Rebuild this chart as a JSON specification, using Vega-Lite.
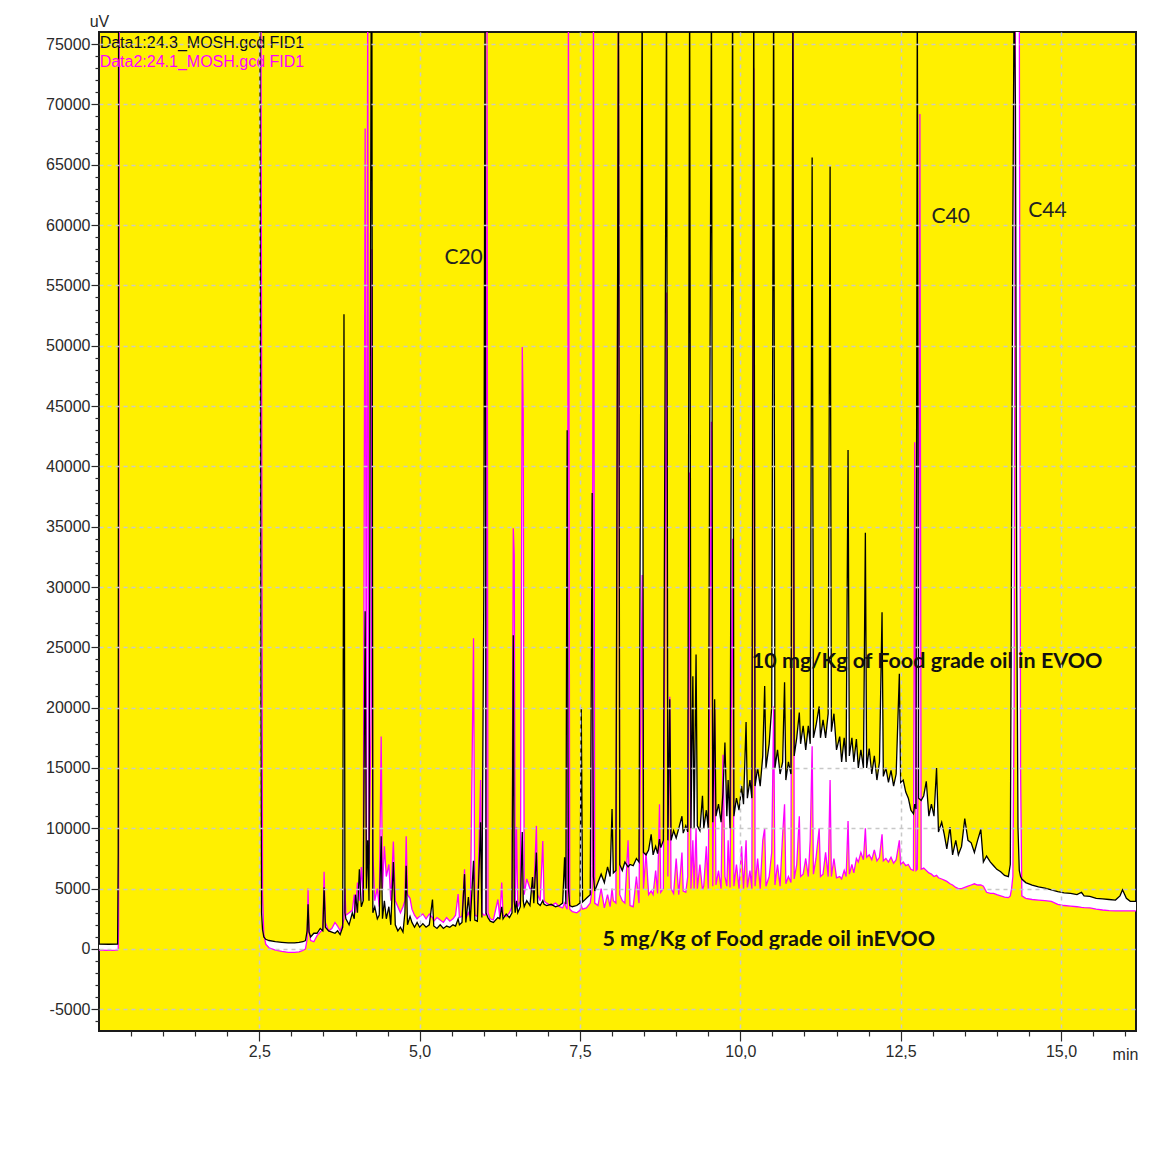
{
"$schema": "https://vega.github.io/schema/vega-lite/v6.json",
"width": 1037, "height": 999,
"autosize": {"type": "none"},
"padding": {"left": 99, "top": 32, "right": 35, "bottom": 136},
"background": "white",
"config": {
  "view": {"fill": "#fff000", "stroke": "#1a1a1a", "strokeWidth": 2},
  "axis": {"domain": false, "labelFont": "Liberation Sans", "labelFontSize": 16, "labelColor": "#2a2a2a", "tickColor": "#2a2a2a", "titleFont": "Liberation Sans", "titleFontSize": 16, "titleFontWeight": "normal", "titleColor": "#2a2a2a"}
},
"datasets": {
"trace": [
{"t":0,"b":400,"m":-100},{"t":0.15,"b":390,"m":-110},{"t":0.29,"b":400,"m":-100},{"t":0.3,"b":8000,"m":0},{"t":0.305,"b":80000,"m":2000},{"t":0.315,"b":80000,"m":80000},{"t":2.51,"b":80000,"m":80000},{"t":2.525,"b":20000,"m":80000},{"t":2.535,"b":3000,"m":50000},{"t":2.55,"b":1600,"m":4500},{"t":2.57,"b":1000,"m":1200},{"t":2.6,"b":800,"m":400},{"t":2.65,"b":700,"m":100},{"t":2.75,"b":600,"m":-100},{"t":2.85,"b":550,"m":-200},{"t":2.95,"b":500,"m":-280},{"t":3.05,"b":500,"m":-280},{"t":3.12,"b":550,"m":-250},{"t":3.18,"b":600,"m":-120},{"t":3.22,"b":700,"m":0},{"t":3.245,"b":1500,"m":800},{"t":3.26,"b":3700,"m":5000},{"t":3.275,"b":1400,"m":1500},{"t":3.3,"b":1000,"m":700},{"t":3.35,"b":1300,"m":600},{"t":3.4,"b":1300,"m":1100},{"t":3.45,"b":1700,"m":1400},{"t":3.49,"b":1500,"m":1600},{"t":3.51,"b":5100,"m":6400},{"t":3.53,"b":1800,"m":2200},{"t":3.58,"b":1500,"m":1500},{"t":3.63,"b":1400,"m":1700},{"t":3.68,"b":1300,"m":2200},{"t":3.72,"b":1500,"m":1900},{"t":3.76,"b":1200,"m":1500},{"t":3.8,"b":1800,"m":2000},{"t":3.82,"b":52600,"m":2500},{"t":3.835,"b":3000,"m":5000},{"t":3.85,"b":2500,"m":2800},{"t":3.9,"b":2000,"m":3000},{"t":3.95,"b":3000,"m":3200},{"t":3.98,"b":2500,"m":4500},{"t":4.0,"b":4500,"m":3000},{"t":4.03,"b":3000,"m":5500},{"t":4.06,"b":6600,"m":4000},{"t":4.09,"b":3500,"m":6800},{"t":4.12,"b":4000,"m":4000},{"t":4.15,"b":28000,"m":68000},{"t":4.17,"b":5000,"m":6000},{"t":4.19,"b":9000,"m":80000},{"t":4.21,"b":4000,"m":7000},{"t":4.245,"b":80000,"m":20000},{"t":4.255,"b":80000,"m":58000},{"t":4.27,"b":3000,"m":8000},{"t":4.3,"b":3500,"m":4000},{"t":4.34,"b":2500,"m":5000},{"t":4.37,"b":2800,"m":3500},{"t":4.4,"b":9350,"m":17600},{"t":4.42,"b":2500,"m":5000},{"t":4.45,"b":4000,"m":8500},{"t":4.48,"b":2500,"m":6000},{"t":4.52,"b":3500,"m":7000},{"t":4.55,"b":2000,"m":4000},{"t":4.59,"b":7200,"m":8900},{"t":4.62,"b":2000,"m":4000},{"t":4.66,"b":1500,"m":3500},{"t":4.7,"b":1800,"m":3000},{"t":4.74,"b":1400,"m":3500},{"t":4.77,"b":3000,"m":4000},{"t":4.79,"b":6900,"m":9350},{"t":4.81,"b":2000,"m":4500},{"t":4.85,"b":2700,"m":4200},{"t":4.88,"b":2200,"m":3300},{"t":4.92,"b":1800,"m":2800},{"t":4.96,"b":2200,"m":2500},{"t":5.0,"b":1800,"m":2700},{"t":5.05,"b":2100,"m":2900},{"t":5.1,"b":1800,"m":2500},{"t":5.15,"b":2000,"m":2900},{"t":5.2,"b":4100,"m":2600},{"t":5.22,"b":1900,"m":2300},{"t":5.27,"b":1700,"m":2600},{"t":5.32,"b":2000,"m":2400},{"t":5.37,"b":1700,"m":2200},{"t":5.42,"b":1900,"m":2600},{"t":5.47,"b":1800,"m":2300},{"t":5.52,"b":2000,"m":2500},{"t":5.56,"b":1900,"m":2800},{"t":5.6,"b":2500,"m":4550},{"t":5.62,"b":2000,"m":2600},{"t":5.66,"b":2200,"m":2700},{"t":5.7,"b":6200,"m":6600},{"t":5.72,"b":2200,"m":2500},{"t":5.76,"b":4300,"m":3000},{"t":5.79,"b":2300,"m":2600},{"t":5.84,"b":7300,"m":25750},{"t":5.86,"b":2400,"m":2800},{"t":5.9,"b":2300,"m":2700},{"t":5.95,"b":10500,"m":14000},{"t":5.97,"b":2600,"m":3000},{"t":6.0,"b":29300,"m":2800},{"t":6.02,"b":80000,"m":2800},{"t":6.035,"b":3000,"m":3000},{"t":6.05,"b":2800,"m":80000},{"t":6.065,"b":2600,"m":3000},{"t":6.1,"b":2300,"m":2500},{"t":6.15,"b":2200,"m":2400},{"t":6.22,"b":2600,"m":4100},{"t":6.25,"b":2500,"m":2600},{"t":6.28,"b":3500,"m":5500},{"t":6.3,"b":2500,"m":2800},{"t":6.35,"b":2900,"m":2700},{"t":6.4,"b":2600,"m":3000},{"t":6.44,"b":3000,"m":3500},{"t":6.46,"b":26000,"m":34860},{"t":6.475,"b":4000,"m":32650},{"t":6.49,"b":3000,"m":3500},{"t":6.51,"b":4000,"m":10100},{"t":6.53,"b":3000,"m":3500},{"t":6.57,"b":3500,"m":4000},{"t":6.6,"b":9700,"m":49900},{"t":6.615,"b":4000,"m":44600},{"t":6.63,"b":3500,"m":4500},{"t":6.67,"b":4000,"m":5800},{"t":6.72,"b":3600,"m":5000},{"t":6.76,"b":5960,"m":5000},{"t":6.78,"b":3800,"m":4500},{"t":6.82,"b":8000,"m":10200},{"t":6.84,"b":3800,"m":4500},{"t":6.88,"b":3600,"m":4000},{"t":6.92,"b":4000,"m":8950},{"t":6.94,"b":3700,"m":4000},{"t":6.98,"b":3600,"m":3800},{"t":7.05,"b":3700,"m":3600},{"t":7.12,"b":3500,"m":3800},{"t":7.18,"b":3600,"m":3500},{"t":7.23,"b":3800,"m":3400},{"t":7.26,"b":7600,"m":3800},{"t":7.28,"b":3700,"m":3500},{"t":7.3,"b":43000,"m":3300},{"t":7.32,"b":5000,"m":80000},{"t":7.34,"b":3600,"m":3300},{"t":7.38,"b":3500,"m":3100},{"t":7.45,"b":3600,"m":3000},{"t":7.5,"b":3800,"m":3200},{"t":7.52,"b":20000,"m":3600},{"t":7.54,"b":3900,"m":3300},{"t":7.6,"b":4200,"m":3400},{"t":7.66,"b":4500,"m":3800},{"t":7.69,"b":37800,"m":5000},{"t":7.71,"b":6000,"m":80000},{"t":7.73,"b":4800,"m":3800},{"t":7.78,"b":5500,"m":3600},{"t":7.83,"b":6200,"m":5000},{"t":7.88,"b":5500,"m":3400},{"t":7.93,"b":6800,"m":4500},{"t":7.97,"b":6000,"m":3500},{"t":8.0,"b":11600,"m":5000},{"t":8.02,"b":6300,"m":4000},{"t":8.06,"b":6500,"m":3800},{"t":8.1,"b":80000,"m":80000},{"t":8.12,"b":7000,"m":4500},{"t":8.16,"b":6500,"m":4000},{"t":8.2,"b":7200,"m":3800},{"t":8.25,"b":6800,"m":9000},{"t":8.28,"b":7000,"m":3600},{"t":8.33,"b":6900,"m":3500},{"t":8.38,"b":7500,"m":6000},{"t":8.42,"b":7200,"m":3800},{"t":8.47,"b":80000,"m":31000},{"t":8.49,"b":8000,"m":5000},{"t":8.53,"b":7800,"m":8000},{"t":8.57,"b":8200,"m":4500},{"t":8.61,"b":9500,"m":4800},{"t":8.64,"b":7800,"m":4500},{"t":8.68,"b":8500,"m":6500},{"t":8.71,"b":7900,"m":4600},{"t":8.74,"b":9100,"m":12000},{"t":8.76,"b":8400,"m":4700},{"t":8.8,"b":9000,"m":5000},{"t":8.85,"b":80000,"m":54400},{"t":8.87,"b":9000,"m":6000},{"t":8.9,"b":20700,"m":20900},{"t":8.92,"b":9000,"m":5000},{"t":8.96,"b":9800,"m":4600},{"t":9.0,"b":9200,"m":7500},{"t":9.04,"b":10000,"m":4500},{"t":9.09,"b":11000,"m":8000},{"t":9.11,"b":9600,"m":4800},{"t":9.15,"b":10200,"m":4700},{"t":9.18,"b":9700,"m":6000},{"t":9.21,"b":80000,"m":39500},{"t":9.23,"b":10000,"m":5000},{"t":9.26,"b":22600,"m":9000},{"t":9.28,"b":10000,"m":5000},{"t":9.31,"b":24400,"m":10000},{"t":9.33,"b":10200,"m":5000},{"t":9.37,"b":9800,"m":7000},{"t":9.41,"b":12700,"m":4900},{"t":9.43,"b":10000,"m":5200},{"t":9.47,"b":11500,"m":8500},{"t":9.5,"b":10000,"m":5000},{"t":9.55,"b":80000,"m":43700},{"t":9.57,"b":10500,"m":5200},{"t":9.6,"b":20700,"m":20000},{"t":9.62,"b":11000,"m":5300},{"t":9.66,"b":12000,"m":6500},{"t":9.7,"b":10500,"m":5000},{"t":9.73,"b":13000,"m":16100},{"t":9.76,"b":17100,"m":6000},{"t":9.79,"b":11000,"m":5200},{"t":9.81,"b":14000,"m":9000},{"t":9.84,"b":10000,"m":5100},{"t":9.88,"b":80000,"m":34000},{"t":9.9,"b":11000,"m":5200},{"t":9.94,"b":12500,"m":7000},{"t":9.98,"b":11500,"m":5000},{"t":10.02,"b":13500,"m":8500},{"t":10.05,"b":12000,"m":5000},{"t":10.09,"b":18800,"m":9000},{"t":10.11,"b":12500,"m":5100},{"t":10.15,"b":14000,"m":6500},{"t":10.18,"b":12500,"m":5000},{"t":10.21,"b":80000,"m":73000},{"t":10.23,"b":13500,"m":5200},{"t":10.27,"b":15000,"m":7500},{"t":10.31,"b":13500,"m":5000},{"t":10.35,"b":16000,"m":9000},{"t":10.38,"b":21800,"m":10000},{"t":10.4,"b":15000,"m":5200},{"t":10.45,"b":17000,"m":6000},{"t":10.49,"b":20100,"m":8000},{"t":10.52,"b":80000,"m":20100},{"t":10.54,"b":15000,"m":5300},{"t":10.58,"b":16500,"m":7000},{"t":10.62,"b":14500,"m":5200},{"t":10.66,"b":15500,"m":9500},{"t":10.69,"b":22100,"m":12000},{"t":10.71,"b":14000,"m":5400},{"t":10.75,"b":15500,"m":6000},{"t":10.79,"b":14500,"m":5500},{"t":10.82,"b":80000,"m":80000},{"t":10.84,"b":16000,"m":5800},{"t":10.88,"b":17500,"m":7000},{"t":10.92,"b":19600,"m":11000},{"t":10.94,"b":17000,"m":6000},{"t":10.98,"b":18500,"m":6200},{"t":11.02,"b":16500,"m":7500},{"t":11.06,"b":18500,"m":6000},{"t":11.09,"b":17000,"m":9000},{"t":11.12,"b":65600,"m":16800},{"t":11.14,"b":17500,"m":6200},{"t":11.18,"b":18500,"m":7500},{"t":11.23,"b":20100,"m":10000},{"t":11.25,"b":17500,"m":6000},{"t":11.29,"b":19000,"m":6200},{"t":11.33,"b":17500,"m":8000},{"t":11.37,"b":19500,"m":6000},{"t":11.4,"b":64860,"m":14000},{"t":11.42,"b":18000,"m":6000},{"t":11.46,"b":19500,"m":7500},{"t":11.5,"b":16500,"m":5900},{"t":11.55,"b":17600,"m":6000},{"t":11.58,"b":15500,"m":5800},{"t":11.62,"b":17500,"m":6500},{"t":11.65,"b":15500,"m":6000},{"t":11.68,"b":41350,"m":10600},{"t":11.7,"b":16000,"m":6200},{"t":11.74,"b":17500,"m":7000},{"t":11.77,"b":15500,"m":6300},{"t":11.81,"b":17400,"m":7500},{"t":11.84,"b":15000,"m":7200},{"t":11.88,"b":16500,"m":8000},{"t":11.92,"b":15000,"m":7400},{"t":11.95,"b":34500,"m":10000},{"t":11.97,"b":15000,"m":7600},{"t":12.01,"b":16600,"m":7800},{"t":12.05,"b":14500,"m":7400},{"t":12.09,"b":16000,"m":8200},{"t":12.13,"b":14000,"m":7300},{"t":12.17,"b":15500,"m":7600},{"t":12.21,"b":27900,"m":9500},{"t":12.23,"b":14300,"m":7300},{"t":12.27,"b":15000,"m":7500},{"t":12.31,"b":13800,"m":7200},{"t":12.35,"b":14800,"m":7600},{"t":12.39,"b":13500,"m":7100},{"t":12.43,"b":14500,"m":7400},{"t":12.48,"b":22800,"m":9000},{"t":12.5,"b":13800,"m":7000},{"t":12.54,"b":14000,"m":7200},{"t":12.58,"b":13000,"m":6900},{"t":12.62,"b":12500,"m":7000},{"t":12.66,"b":11500,"m":6600},{"t":12.7,"b":11200,"m":6500},{"t":12.72,"b":12000,"m":42000},{"t":12.74,"b":11600,"m":6500},{"t":12.76,"b":80000,"m":6600},{"t":12.78,"b":12500,"m":20000},{"t":12.8,"b":12400,"m":69200},{"t":12.82,"b":12300,"m":6600},{"t":12.86,"b":12700,"m":6700},{"t":12.9,"b":13900,"m":6500},{"t":12.94,"b":11000,"m":6300},{"t":12.98,"b":12000,"m":6200},{"t":13.02,"b":11000,"m":6000},{"t":13.06,"b":15000,"m":6100},{"t":13.09,"b":9700,"m":5900},{"t":13.14,"b":10500,"m":5800},{"t":13.18,"b":9500,"m":5700},{"t":13.22,"b":8300,"m":5600},{"t":13.27,"b":10100,"m":5400},{"t":13.31,"b":7800,"m":5300},{"t":13.36,"b":9000,"m":5100},{"t":13.4,"b":7800,"m":5000},{"t":13.45,"b":8500,"m":5000},{"t":13.5,"b":10800,"m":5100},{"t":13.55,"b":9000,"m":5200},{"t":13.6,"b":8800,"m":5300},{"t":13.65,"b":8000,"m":5400},{"t":13.7,"b":9000,"m":5300},{"t":13.75,"b":9900,"m":5300},{"t":13.79,"b":7200,"m":5200},{"t":13.84,"b":7700,"m":4700},{"t":13.9,"b":7200,"m":4600},{"t":13.95,"b":6900,"m":4600},{"t":14.0,"b":6600,"m":4500},{"t":14.06,"b":6400,"m":4400},{"t":14.12,"b":6100,"m":4300},{"t":14.18,"b":6000,"m":4250},{"t":14.21,"b":7000,"m":4400},{"t":14.23,"b":34900,"m":5000},{"t":14.25,"b":60000,"m":6000},{"t":14.27,"b":80000,"m":20000},{"t":14.29,"b":70000,"m":80000},{"t":14.31,"b":30000,"m":80000},{"t":14.33,"b":10000,"m":80000},{"t":14.35,"b":6500,"m":80000},{"t":14.37,"b":6000,"m":15000},{"t":14.39,"b":5800,"m":4400},{"t":14.45,"b":5500,"m":4200},{"t":14.55,"b":5300,"m":4100},{"t":14.65,"b":5150,"m":4050},{"t":14.75,"b":5050,"m":4000},{"t":14.85,"b":4900,"m":3950},{"t":14.95,"b":4750,"m":3700},{"t":15.05,"b":4650,"m":3600},{"t":15.15,"b":4600,"m":3550},{"t":15.25,"b":4500,"m":3500},{"t":15.32,"b":4700,"m":3450},{"t":15.36,"b":4400,"m":3430},{"t":15.45,"b":4350,"m":3400},{"t":15.55,"b":4200,"m":3300},{"t":15.65,"b":4150,"m":3230},{"t":15.75,"b":4100,"m":3180},{"t":15.85,"b":4050,"m":3150},{"t":15.92,"b":4400,"m":3150},{"t":15.96,"b":4900,"m":3150},{"t":16.02,"b":4200,"m":3150},{"t":16.08,"b":3950,"m":3150},{"t":16.17,"b":3950,"m":3150}
],
"cLabels": [
{"label":"C20","t":5.685,"v":57300},{"label":"C40","t":13.28,"v":60700},{"label":"C44","t":14.79,"v":61200}
],
"boldLabels": [
{"label":"10 mg/Kg of Food grade oil in EVOO","t":10.18,"v":23760},{"label":"5 mg/Kg of Food grade oil inEVOO","t":7.85,"v":745}
],
"legendLabels": [
{"label":"Data1:24.3_MOSH.gcd FID1","t":0.01,"v":75100,"series":"Data1"},{"label":"Data2:24.1_MOSH.gcd FID1","t":0.01,"v":73530,"series":"Data2"}
]
},
"layer": [
{"data": {"name": "trace"}, "mark": {"type": "area", "color": "white", "clip": true},
 "encoding": {
  "x": {"field": "t", "type": "quantitative", "scale": {"domain": [0, 16.17], "nice": false, "zero": false},
        "axis": {"orient": "bottom", "values": [2.5, 5, 7.5, 10, 12.5, 15], "labelExpr": "replace(format(datum.value, '.1f'), '.', ',')", "grid": true, "gridColor": "#c8c8c8", "gridDash": [4, 4], "gridWidth": 1.5, "tickSize": 10, "tickWidth": 1.2, "labelPadding": 2, "title": "min", "titleX": 1026, "titleY": 23, "titleAngle": 0, "titleAlign": "center", "titleBaseline": "middle", "zindex": 1, "labelFlush": false}},
  "y": {"field": "b", "type": "quantitative", "scale": {"domain": [-6800, 76000], "nice": false, "zero": false},
        "axis": {"orient": "left", "values": [-5000, 0, 5000, 10000, 15000, 20000, 25000, 30000, 35000, 40000, 45000, 50000, 55000, 60000, 65000, 70000, 75000], "labelExpr": "'' + datum.value", "grid": true, "gridColor": "#c8c8c8", "gridDash": [4, 4], "gridWidth": 1.5, "tickSize": 8, "tickWidth": 1.2, "labelPadding": 1, "title": "uV", "titleX": 0, "titleY": -11, "titleAngle": 0, "titleAlign": "center", "titleBaseline": "middle", "zindex": 1, "labelFlush": false}},
  "y2": {"field": "m"}
 }},
{"data": {"name": "trace"}, "mark": {"type": "line", "color": "#ff00ff", "strokeWidth": 1.3, "clip": true},
 "encoding": {
  "x": {"field": "t", "type": "quantitative", "axis": {"orient": "bottom", "values": [0.5, 1, 1.5, 2, 3, 3.5, 4, 4.5, 5.5, 6, 6.5, 7, 8, 8.5, 9, 9.5, 10.5, 11, 11.5, 12, 13, 13.5, 14, 14.5, 15.5, 16], "labels": false, "grid": false, "tickSize": 5, "tickWidth": 1.2, "title": null, "zindex": 1, "offset": 0}},
  "y": {"field": "m", "type": "quantitative", "axis": {"orient": "left", "values": [-6000, -4000, -3000, -2000, -1000, 1000, 2000, 3000, 4000, 6000, 7000, 8000, 9000, 11000, 12000, 13000, 14000, 16000, 17000, 18000, 19000, 21000, 22000, 23000, 24000, 26000, 27000, 28000, 29000, 31000, 32000, 33000, 34000, 36000, 37000, 38000, 39000, 41000, 42000, 43000, 44000, 46000, 47000, 48000, 49000, 51000, 52000, 53000, 54000, 56000, 57000, 58000, 59000, 61000, 62000, 63000, 64000, 66000, 67000, 68000, 69000, 71000, 72000, 73000, 74000], "labels": false, "grid": false, "tickSize": 4, "tickWidth": 1.2, "title": null, "zindex": 1, "offset": 0}}
 }},
{"data": {"name": "trace"}, "mark": {"type": "line", "color": "#000000", "strokeWidth": 1.3, "clip": true},
 "encoding": {
  "x": {"field": "t", "type": "quantitative", "axis": null},
  "y": {"field": "b", "type": "quantitative", "axis": null}
 }},
{"data": {"name": "cLabels"}, "mark": {"type": "text", "font": "Lato", "fontSize": 21, "color": "#222", "align": "center", "baseline": "middle"},
 "encoding": {"x": {"field": "t", "type": "quantitative", "axis": null}, "y": {"field": "v", "type": "quantitative", "axis": null}, "text": {"field": "label"}}},
{"data": {"name": "boldLabels"}, "mark": {"type": "text", "font": "Lato", "fontSize": 21.5, "fontWeight": "bold", "color": "#111", "align": "left", "baseline": "middle"},
 "encoding": {"x": {"field": "t", "type": "quantitative", "axis": null}, "y": {"field": "v", "type": "quantitative", "axis": null}, "text": {"field": "label"}}},
{"data": {"name": "legendLabels"}, "mark": {"type": "text", "font": "Liberation Sans", "fontSize": 16, "align": "left", "baseline": "middle"},
 "encoding": {"x": {"field": "t", "type": "quantitative", "axis": null}, "y": {"field": "v", "type": "quantitative", "axis": null}, "text": {"field": "label"},
  "color": {"field": "series", "type": "nominal", "scale": {"domain": ["Data1", "Data2"], "range": ["#0a0a28", "#ff00ff"]}, "legend": null}}}
],
"resolve": {"axis": {"x": "independent", "y": "independent"}}
}
